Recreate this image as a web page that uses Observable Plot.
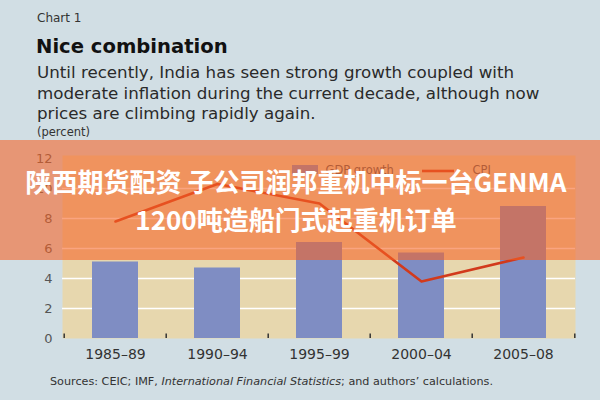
<!DOCTYPE html>
<html>
<head>
<meta charset="utf-8">
<script src="https://cdn.jsdelivr.net/npm/d3@7"></script>
<script src="https://cdn.jsdelivr.net/npm/@observablehq/plot@0.6"></script>
<style>
  html, body { margin: 0; padding: 0; }
  body { width: 600px; height: 400px; overflow: hidden; font-family: "DejaVu Sans", sans-serif; }
  #page { position: relative; width: 600px; height: 400px; background: #d1dee4; color: #222; }
  .abs { position: absolute; white-space: nowrap; }
  #chartno { left: 37px; top: 11px; font-size: 12px; color: #333; }
  #title { left: 36px; top: 35px; font-size: 19.6px; font-weight: bold; color: #111; }
  #subtitle { left: 37px; top: 62px; font-size: 16.7px; line-height: 20.5px; color: #2a2a2a; }
  #unit { left: 37px; top: 125px; font-size: 11.5px; color: #333; }
  #plot { left: 0; top: 140px; }
  #legend { left: 0; top: 0; }
  #sources { left: 50px; top: 375px; font-size: 11.2px; color: #333; }
  #banner { left: 0; top: 140px; width: 600px; height: 120px; background: rgba(246, 98, 36, 0.58); }
  .bl { position: absolute; left: -4px; width: 600px; text-align: center; color: #fff; font-family: "Noto Sans CJK SC", sans-serif; font-weight: bold; font-size: 26px; line-height: 32px; }
</style>
</head>
<body>
<div id="page">
  <div id="chartno" class="abs">Chart 1</div>
  <div id="title" class="abs">Nice combination</div>
  <div id="subtitle" class="abs">Until recently, India has seen strong growth coupled with<br>moderate inflation during the current decade, although now<br>prices are climbing rapidly again.</div>
  <div id="unit" class="abs">(percent)</div>
  <div id="plot" class="abs"></div>
  <div id="legend" class="abs"></div>
  <div id="sources" class="abs">Sources: CEIC; IMF, <i>International Financial Statistics</i>; and authors’ calculations.</div>
  <div id="banner" class="abs">
    <div class="bl" style="top:25px">陕西期货配资 子公司润邦重机中标一台GENMA</div>
    <div class="bl" style="top:63px">1200吨造船门式起重机订单</div>
  </div>
</div>
<script>
const categories = ["1985–89", "1990–94", "1995–99", "2000–04", "2005–08"];
const gdpGrowth = [5.1, 4.7, 6.4, 5.7, 8.8];
const cpi = [7.8, 10.3, 9.0, 3.8, 5.4];
const yTicks = [0, 2, 4, 6, 8, 10, 12];
const gridValues = [2, 4, 6, 8, 10];
const seriesNames = ["GDP growth", "CPI"];

const colBar = "#7f8dc3";
const colLine = "#d23a1c";
const colPlotBg = "#e7d7ae";

const rows = categories.map((c, i) => ({period: c, gdp: gdpGrowth[i], cpi: cpi[i]}));

const W = 600, H = 232, mL = 62, mR = 25, mT = 15, mB = 34;
const step = (W - mL - mR) / categories.length;
const FONT = "DejaVu Sans, sans-serif";

const chart = Plot.plot({
  width: W,
  height: H,
  marginLeft: mL,
  marginRight: mR,
  marginTop: mT,
  marginBottom: mB,
  style: {background: "transparent", fontFamily: FONT},
  x: {domain: categories, paddingInner: 0.55, paddingOuter: 0.275, label: null},
  y: {domain: [0, 12.2], ticks: yTicks, label: null},
  marks: [
    Plot.frame({fill: colPlotBg, stroke: null}),
    Plot.ruleY(gridValues, {stroke: "#fff", strokeWidth: 1.6}),
    Plot.barY(rows, {x: "period", y: "gdp", fill: colBar}),
    Plot.ruleX(categories, {x: d => d, dx: -step / 2, y1: 0, y2: 0.3, stroke: "#333", strokeWidth: 1.5}),
    Plot.ruleX(categories.slice(-1), {x: d => d, dx: step / 2, y1: 0, y2: 0.3, stroke: "#333", strokeWidth: 1.5}),
    Plot.line(rows, {x: "period", y: "cpi", stroke: colLine, strokeWidth: 2.6}),
    Plot.axisY({ticks: yTicks, tickSize: 0, tickPadding: 10, fontSize: 13, fill: "#555"}),
    Plot.axisX({tickSize: 0, tickPadding: 11, fontSize: 14, fill: "#333"})
  ]
});
document.getElementById("plot").appendChild(chart);

// legend drawn with Plot
const legendRows = [{name: seriesNames[0], kind: "bar"}, {name: seriesNames[1], kind: "line"}];
const legend = Plot.plot({
  width: 600, height: 400, margin: 0,
  style: {background: "transparent", fontFamily: FONT},
  x: {type: "identity"}, y: {type: "identity"},
  marks: [
    Plot.rect([legendRows[0]], {x1: 292, x2: 318, y1: 165, y2: 174, fill: colBar}),
    Plot.text([legendRows[0]], {x: 325, y: 170, text: "name", textAnchor: "start", fontSize: 11.5, fill: "#555"}),
    Plot.ruleY([legendRows[1]], {x1: 422, x2: 454, y: 170.5, stroke: colLine, strokeWidth: 2.6}),
    Plot.text([legendRows[1]], {x: 472, y: 170, text: "name", textAnchor: "start", fontSize: 11.5, fill: "#555"})
  ]
});
document.getElementById("legend").appendChild(legend);
</script>
</body>
</html>
